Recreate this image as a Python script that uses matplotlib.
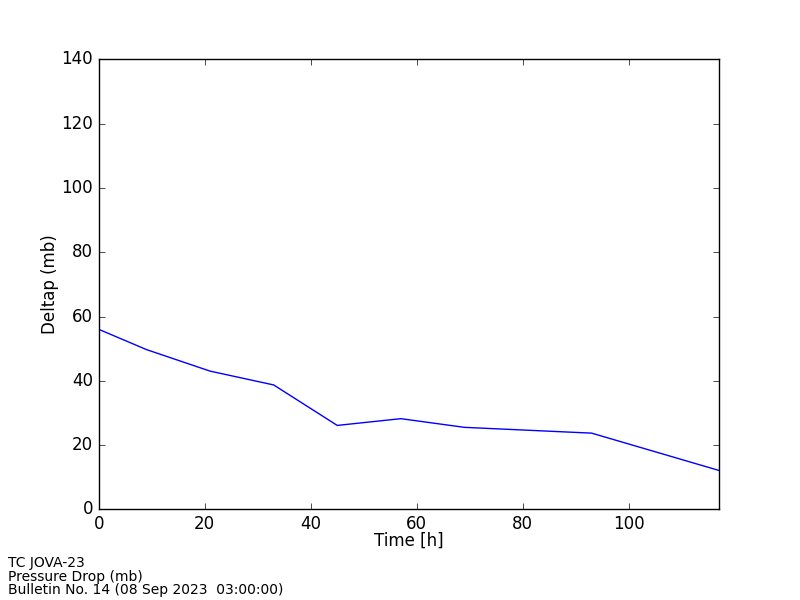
#!/usr/bin/env python3
import matplotlib
matplotlib.use("Agg")
import matplotlib.pyplot as plt

# ===== data =====
time_h = [0, 9, 21, 33, 45, 57, 69, 93, 117]
deltap = [56.0, 49.7, 43.0, 38.7, 26.1, 28.2, 25.5, 23.7, 12.1]

INFO_LINES = [
    "TC JOVA-23",
    "Pressure Drop (mb)",
    "Bulletin No. 14 (08 Sep 2023  03:00:00)",
]

plt.style.use("classic")

fig = plt.figure(figsize=(8, 6), dpi=100, facecolor="white")
ax = fig.add_axes([0.1235, 0.1512, 0.775, 0.7497])

ax.plot(time_h, deltap, color="blue", linewidth=1.0)

ax.set_xlim(0, 117)
ax.set_ylim(0, 140)
ax.set_xticks([0, 20, 40, 60, 80, 100])
ax.set_yticks(range(0, 141, 20))
ax.set_xlabel("Time [h]", fontsize=12, labelpad=-1)
ax.set_ylabel("Deltap (mb)", fontsize=12, labelpad=2)
ax.tick_params(labelsize=12)

fig.text(0.01, 0.005, "\n".join(INFO_LINES), fontsize=10,
         ha="left", va="bottom", linespacing=0.95)

fig.savefig("out.png", dpi=100, facecolor="white")
